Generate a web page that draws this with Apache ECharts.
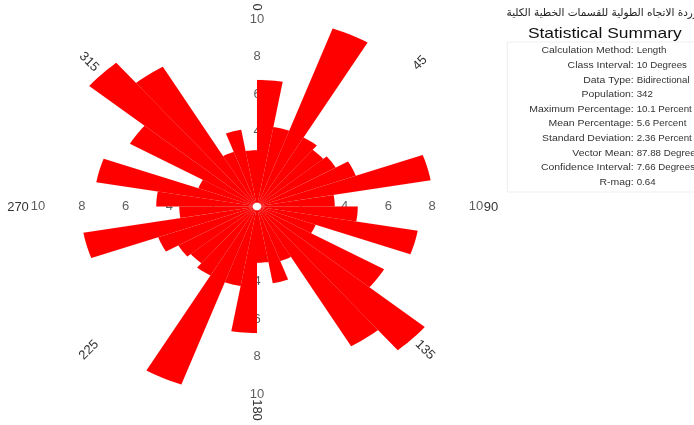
<!DOCTYPE html>
<html>
<head>
<meta charset="utf-8">
<script src="https://cdn.jsdelivr.net/npm/echarts@6/dist/echarts.min.js"></script>
<style>
  html, body { margin: 0; padding: 0; background: #fff; }
  #chart { width: 694px; height: 425px; }
</style>
</head>
<body>
<div id="chart"></div>
<script>
// bidirectional rose: 18 bins over 0-180, mirrored onto 180-360
const binStarts = [0, 10, 20, 30, 40, 50, 60, 70, 80, 90, 100, 110, 120, 130, 140, 150, 160, 170]
const binPercent = [6.75, 4.3, 10.1, 4.25, 3.95, 4.15, 4.8, 8.05, 3.55, 4.6, 7.45, 2.85, 6.7, 10.0, 8.6, 3.1, 4.15, 3.0]

// radial ring labels, shown along the four compass directions
const tickValues = [2, 4, 6, 8, 10]
const dirLabels = ['0', '45', '90', '135', '180', '225', '270', '315']

const chartTitle = 'وردة الاتجاه الطولية للقسمات الخطية الكلية'
const statLabels = ['Calculation Method:', 'Class Interval:', 'Data Type:', 'Population:', 'Maximum Percentage:',
  'Mean Percentage:', 'Standard Deviation:', 'Vector Mean:', 'Confidence Interval:', 'R-mag:']
const statValues = ['Length', '10 Degrees', 'Bidirectional', '342', '10.1 Percent',
  '5.6 Percent', '2.36 Percent', '87.88 Degrees', '7.66 Degrees', '0.64']

const HOLE = 0.2
const FONT = 'Liberation Sans, Arial, sans-serif'
const GRID = { left: 38, top: 19, width: 438, height: 375 }

// full circle: each bin repeated on the opposite side
const roseData = binStarts.map((a, i) => [a, binPercent[i]])
  .concat(binStarts.map((a, i) => [a + 180, binPercent[i]]))

// ring labels sit under the wedges, like in the source
const tickData = []
tickValues.forEach(t => {
  tickData.push([t, 0], [-t, 0], [0, t], [0, -t])
})

function renderWedge(params, api) {
  const a0 = api.value(0)
  const v = api.value(1)
  const steps = 6
  const pts = []
  for (let k = 0; k <= steps; k++) {
    const t = (a0 + 10 * k / steps) * Math.PI / 180
    pts.push(api.coord([v * Math.sin(t), v * Math.cos(t)]))
  }
  for (let k = steps; k >= 0; k--) {
    const t = (a0 + 10 * k / steps) * Math.PI / 180
    pts.push(api.coord([HOLE * Math.sin(t), HOLE * Math.cos(t)]))
  }
  return {
    type: 'polygon',
    shape: { points: pts },
    style: { fill: '#ff0000', stroke: 'rgba(170,0,0,0.12)', lineWidth: 0.5 }
  }
}

// direction labels around the rose (pixel spots + rotation)
const dirPos = [[257, 7, -90], [420, 63, 45], [491, 207, 0], [425, 350, -45],
  [257, 410, -90], [89, 350, 45], [18, 207, 0], [89, 62, -45]]
const dirTexts = dirLabels.map((t, i) => ({
  type: 'text',
  x: dirPos[i][0],
  y: dirPos[i][1],
  rotation: dirPos[i][2] * Math.PI / 180,
  style: { text: t, fill: '#333', font: '13px ' + FONT, textAlign: 'center', textVerticalAlign: 'middle' }
}))

// summary table, stretched like the source image
const rowTop = 51
const rowStep = 14.6
const statTexts = []
statLabels.forEach((lab, i) => {
  statTexts.push({
    type: 'text', x: 111, y: rowTop + i * rowStep,
    style: { text: lab, fill: '#333', font: '9px ' + FONT, textAlign: 'right', textVerticalAlign: 'middle' }
  })
  statTexts.push({
    type: 'text', x: 113.5, y: rowTop + i * rowStep,
    style: { text: statValues[i], fill: '#333', font: '8.4px ' + FONT, textAlign: 'left', textVerticalAlign: 'middle' }
  })
})

const axisCommon = {
  type: 'value',
  min: -10,
  max: 10,
  interval: 2,
  show: false,
  splitLine: { show: false }
}

const chart = echarts.init(document.getElementById('chart'))
chart.setOption({
  animation: false,
  grid: Object.assign({ containLabel: false, outerBoundsMode: 'none' }, GRID),
  xAxis: axisCommon,
  yAxis: axisCommon,
  series: [
    {
      type: 'scatter',
      silent: true,
      z: 1,
      symbolSize: 0,
      data: tickData,
      label: {
        show: true,
        position: 'inside',
        color: '#333',
        fontSize: 13,
        fontFamily: FONT,
        formatter: p => Math.abs(p.value[0] || p.value[1])
      }
    },
    {
      type: 'custom',
      silent: true,
      z: 5,
      renderItem: renderWedge,
      encode: { x: 0, y: 1 },
      data: roseData
    }
  ],
  graphic: [
    ...dirTexts,
    {
      type: 'text', x: 698, y: 13,
      style: { text: chartTitle, fill: '#222', font: '10.5px DejaVu Sans, sans-serif', textAlign: 'right', textVerticalAlign: 'middle' }
    },
    {
      type: 'group',
      x: 505,
      y: 0,
      scaleX: 1.16,
      children: [
        {
          type: 'rect',
          shape: { x: 2, y: 42, width: 170, height: 150 },
          style: { fill: 'none', stroke: '#efefef', lineWidth: 1 }
        },
        {
          type: 'text', x: 86, y: 34,
          style: { text: 'Statistical Summary', fill: '#111', font: '15px ' + FONT, textAlign: 'center', textVerticalAlign: 'middle' }
        },
        ...statTexts
      ]
    }
  ]
})
</script>
</body>
</html>
